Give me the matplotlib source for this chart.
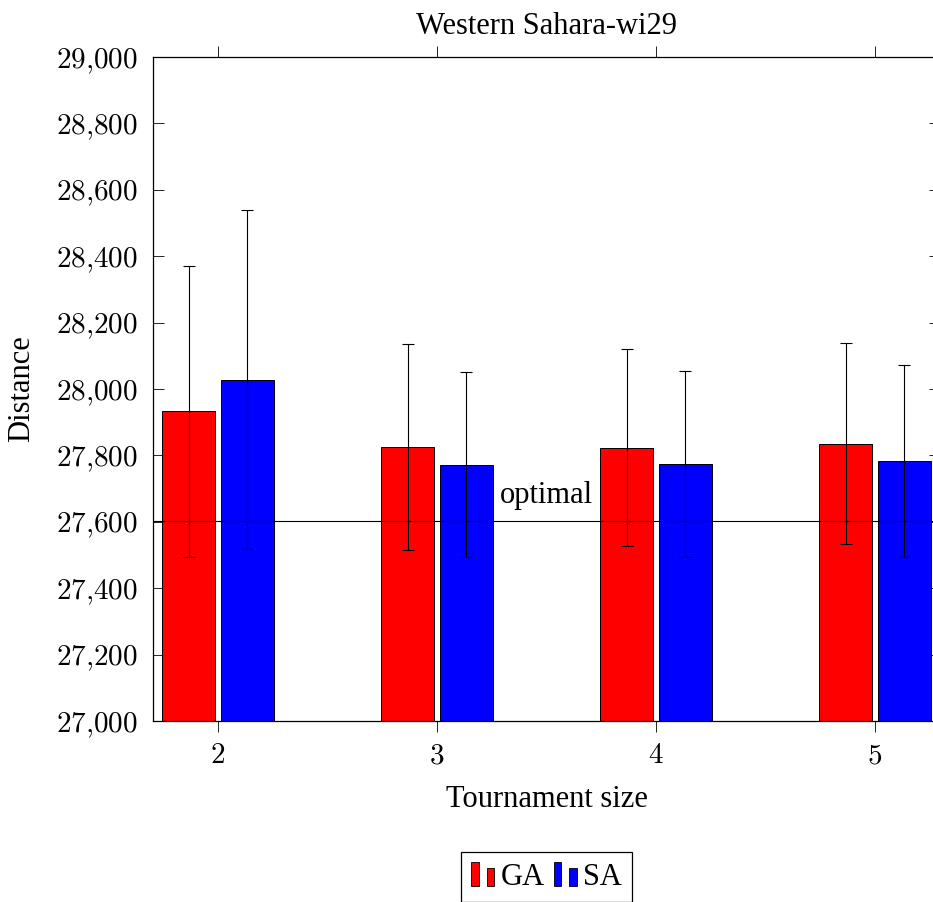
import numpy as np
import matplotlib
matplotlib.use("Agg")
import matplotlib.pyplot as plt
from matplotlib.patches import Patch, Rectangle
from matplotlib.legend_handler import HandlerBase
from matplotlib.ticker import FuncFormatter

# data
sizes = [2, 3, 4, 5]
ga_mean = [27933, 27826, 27823, 27835]
ga_err = [438, 310, 297, 303]
sa_mean = [28028, 27772, 27774, 27784]
sa_err = [510, 278, 280, 289]
optimal = 27603
title = "Western Sahara-wi29"

plt.rcParams['font.family'] = ['Liberation Serif', 'DejaVu Serif']
plt.rcParams['mathtext.fontset'] = 'cm'


class TwoBarHandler(HandlerBase):
    # little pgfplots style "ybar" legend icon: two bars of different height
    def create_artists(self, legend, orig_handle, xdescent, ydescent,
                       width, height, fontsize, trans):
        c = orig_handle.get_facecolor()
        w = width / 3.0
        r1 = Rectangle((-xdescent, -ydescent), w, height, facecolor=c,
                       edgecolor='black', lw=0.6, transform=trans)
        r2 = Rectangle((-xdescent + 2 * w, -ydescent), w, height * 0.76,
                       facecolor=c, edgecolor='black', lw=0.6, transform=trans)
        return [r1, r2]


fig = plt.figure(figsize=(9.33, 9.02), dpi=100)
ax = fig.add_axes([153 / 933, 1 - 721 / 902, 787 / 933, 664 / 902])

x = np.array(sizes, dtype=float)
bw = 0.244
shift = 0.134
ax.bar(x - shift, ga_mean, bw, color='#ff0000', edgecolor='black', lw=0.7, zorder=2)
ax.bar(x + shift, sa_mean, bw, color='#0000ff', edgecolor='black', lw=0.7, zorder=2)
ax.errorbar(x - shift, ga_mean, yerr=ga_err, fmt='none', ecolor='black',
            elinewidth=0.8, capsize=4, capthick=0.8, zorder=3)
ax.errorbar(x + shift, sa_mean, yerr=sa_err, fmt='none', ecolor='black',
            elinewidth=0.8, capsize=4, capthick=0.8, zorder=3)

ax.axhline(optimal, color='black', lw=0.8, zorder=4)
ax.annotate("optimal", xy=(3.5, optimal), xytext=(0, 13), textcoords='offset points',
            ha='center', va='baseline', fontsize=22)

ax.set_xlim(1.703, 5.297)
ax.set_ylim(27000, 29000)
ax.set_xticks(sizes)
ax.set_yticks(np.arange(27000, 29001, 200))
ax.xaxis.set_major_formatter(FuncFormatter(lambda v, p: r'$%d$' % v))
ax.yaxis.set_major_formatter(FuncFormatter(
    lambda v, p: r'$%d{,}%03d$' % (int(v) // 1000, int(v) % 1000)))
ax.tick_params(axis='y', direction='in', left=True, right=True, length=8,
               width=0.6, labelsize=21, pad=11)
ax.tick_params(axis='x', direction='out', bottom=True, top=True, length=8,
               width=0.6, labelsize=21, pad=8)
for s in ax.spines.values():
    s.set_linewidth(0.9)

fig.text(546.5 / 933, 1 - 34 / 902, title, ha='center', va='baseline', fontsize=22)
fig.text(546.5 / 933, 1 - 807 / 902, "Tournament size", ha='center', va='baseline', fontsize=22)
fig.text(21.5 / 933, 1 - 389 / 902, "Distance", ha='center', va='center',
         rotation=90, fontsize=22)

handles = [Patch(facecolor='#ff0000'), Patch(facecolor='#0000ff')]
leg = fig.legend(handles, ["GA", "SA"], handler_map={Patch: TwoBarHandler()},
                 loc='center', bbox_to_anchor=(546.5 / 933, 1 - 877 / 902),
                 ncol=2, fontsize=22, frameon=True, fancybox=False,
                 edgecolor='black', framealpha=1, borderpad=0.35,
                 handlelength=0.75, handleheight=0.82, handletextpad=0.2,
                 columnspacing=0.3, borderaxespad=0)
leg.get_frame().set_linewidth(0.9)

fig.savefig("out.png", dpi=100)
